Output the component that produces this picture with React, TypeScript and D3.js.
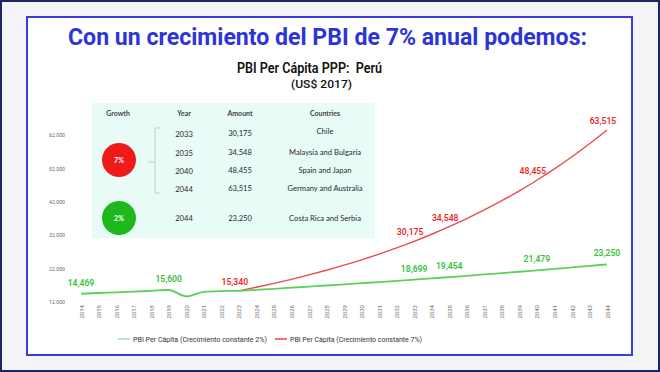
import React, { useEffect, useRef } from 'react';
import * as d3 from 'd3';

// years on the x axis
const years = [2014, 2015, 2016, 2017, 2018, 2019, 2020, 2021, 2022, 2023, 2024, 2025, 2026, 2027, 2028,
    2029, 2030, 2031, 2032, 2033, 2034, 2035, 2036, 2037, 2038, 2039, 2040, 2041, 2042, 2043, 2044];

// PBI per capita, 2% growth (history up to 2023, then projection)
const green = [14469, 14700, 14900, 15120, 15350, 15600, 13700, 15050, 15280, 15340, 15647, 15960, 16279, 16604,
    16937, 17275, 17621, 17973, 18333, 18699, 19073, 19454, 19844, 20241, 20645, 21058, 21479, 21909, 22347,
    22794, 23250];

// 7% growth projection from 2023
const redYears = [2023, 2024, 2025, 2026, 2027, 2028, 2029, 2030, 2031, 2032, 2033, 2034, 2035, 2036, 2037,
    2038, 2039, 2040, 2041, 2042, 2043, 2044];
const red = [15340, 16414, 17563, 18792, 20108, 21515, 23021, 24633, 26357, 28202, 30175, 32288, 34548, 36967,
    39554, 42323, 45286, 48455, 51848, 55477, 59360, 63515];

const greenLabelYears = [2014, 2019, 2033, 2035, 2040, 2044];
const redLabelYears = [2023, 2033, 2035, 2040, 2044];

const yTicks = [12000, 22000, 32000, 42000, 52000, 62000];

// table
const tableHeaders = ['Growth', 'Year', 'Amount', 'Countries'];
const rows7 = [
    { year: '2033', amount: '30,175', countries: 'Chile' },
    { year: '2035', amount: '34,548', countries: 'Malaysia and Bulgaria' },
    { year: '2040', amount: '48,455', countries: 'Spain and Japan' },
    { year: '2044', amount: '63,515', countries: 'Germany and Australia' },
];
const rows2 = [{ year: '2044', amount: '23,250', countries: 'Costa Rica and Serbia' }];

const legendItems = [
    { label: 'PBI Per Cápita (Crecimiento constante 2%)', color: '#9edcc6' },
    { label: 'PBI Per Cápita (Crecimiento constante 7%)', color: '#e8474a' },
];

const GREEN_LINE = '#5bd05b';
const GREEN_TEXT = '#36c236';
const RED_LINE = '#e94b4f';
const RED_TEXT = '#f02626';

const locale = d3.formatLocale({ decimal: ',', thousands: '.', grouping: [3], currency: ['', ''] });
const fmtTick = locale.format(',');
const fmtLabel = d3.format(',');

const Chart = () => {
    const ref = useRef(null);

    useEffect(() => {
        const g = d3.select(ref.current);
        g.selectAll('*').remove();

        const x = d3.scaleLinear().domain([2014, 2044]).range([81, 607]);
        const y = d3.scaleLinear().domain([12000, 62000]).range([302, 135]);

        // y axis
        const gy = g.append('g')
            .attr('transform', 'translate(67,0)')
            .call(d3.axisLeft(y).tickValues(yTicks).tickSize(0).tickPadding(2).tickFormat((d) => fmtTick(d)));
        gy.select('.domain').remove();
        gy.selectAll('text').attr('font-size', 5.2).attr('fill', '#666').attr('font-family', 'Roboto, sans-serif');

        // x axis, labels rotated to read upward
        const gx = g.append('g')
            .attr('transform', 'translate(0,303)')
            .call(d3.axisBottom(x).tickValues(years).tickSize(0).tickFormat((d) => String(d)));
        gx.select('.domain').remove();
        gx.selectAll('.tick text')
            .attr('font-size', 6)
            .attr('fill', '#777')
            .attr('font-family', 'Roboto, sans-serif')
            .attr('text-anchor', 'end')
            .attr('transform', 'rotate(-90)')
            .attr('x', -2)
            .attr('y', 0)
            .attr('dy', '0.35em');

        const line = d3.line().x((d) => x(d[0])).y((d) => y(d[1])).curve(d3.curveMonotoneX);

        g.append('path')
            .datum(redYears.map((yr, i) => [yr, red[i]]))
            .attr('d', line)
            .attr('fill', 'none')
            .attr('stroke', RED_LINE)
            .attr('stroke-width', 1.4);

        g.append('path')
            .datum(years.map((yr, i) => [yr, green[i]]))
            .attr('d', line)
            .attr('fill', 'none')
            .attr('stroke', GREEN_LINE)
            .attr('stroke-width', 1.8);

        g.selectAll('.glabel')
            .data(greenLabelYears)
            .enter()
            .append('text')
            .attr('class', 'glabel')
            .attr('x', (d) => x(d))
            .attr('y', (d) => y(green[years.indexOf(d)]) - 8)
            .attr('text-anchor', 'middle')
            .attr('font-size', 8.6)
            .attr('font-weight', 600)
            .attr('font-family', 'Roboto, sans-serif')
            .attr('fill', GREEN_TEXT)
            .text((d) => fmtLabel(green[years.indexOf(d)]));

        g.selectAll('.rlabel')
            .data(redLabelYears)
            .enter()
            .append('text')
            .attr('class', 'rlabel')
            .attr('x', (d) => x(d) - 4)
            .attr('y', (d) => y(red[redYears.indexOf(d)]) - 6)
            .attr('text-anchor', 'middle')
            .attr('font-size', 8.6)
            .attr('font-weight', 600)
            .attr('font-family', 'Roboto, sans-serif')
            .attr('fill', RED_TEXT)
            .text((d) => fmtLabel(red[redYears.indexOf(d)]));
    }, []);

    return <g ref={ref}></g>;
};

const colX = [118, 184, 240, 325];
const tFont = 'Lato, "Noto Sans", sans-serif';

const Table = () => (
    <g fontFamily={tFont}>
        <rect x={92} y={103} width={283} height={135} fill="#e9fbf7" />
        {tableHeaders.map((h, i) => (
            <text key={h} x={colX[i]} y={115.5} textAnchor="middle" fontSize={7} fontWeight={700} fill="#444">{h}</text>
        ))}
        {rows7.map((r, i) => {
            const yy = [137, 156, 174, 192][i];
            return (
                <g key={r.year + r.amount} fontSize={7.6} fill="#2a2a2a">
                    <text x={colX[1]} y={yy} textAnchor="middle">{r.year}</text>
                    <text x={colX[2]} y={yy - 1} textAnchor="middle">{r.amount}</text>
                    <text x={colX[3]} y={i === 0 ? yy - 3 : yy - 1} textAnchor="middle">{r.countries}</text>
                </g>
            );
        })}
        {rows2.map((r) => (
            <g key={r.amount} fontSize={7.6} fill="#2a2a2a">
                <text x={colX[1]} y={221} textAnchor="middle">{r.year}</text>
                <text x={colX[2]} y={221} textAnchor="middle">{r.amount}</text>
                <text x={colX[3]} y={221} textAnchor="middle">{r.countries}</text>
            </g>
        ))}
        <path d="M160,128 H155 V193 H160 M155,162 H148" fill="none" stroke="#b0d8c4" strokeWidth={1} />
        <circle cx={119} cy={160} r={17} fill="#f01a1a" />
        <text x={119} y={162.5} textAnchor="middle" fontSize={7} fontWeight={700} fill="#fff">7%</text>
        <circle cx={119} cy={218} r={17} fill="#1cb81c" />
        <text x={119} y={220.5} textAnchor="middle" fontSize={7} fontWeight={700} fill="#fff">2%</text>
    </g>
);

const Legend = () => (
    <g fontFamily="Roboto, sans-serif" fontSize={8} fill="#333">
        <line x1={118} x2={130} y1={339} y2={339} stroke={legendItems[0].color} strokeWidth={1.5} />
        <text x={133} y={342} textLength={134} lengthAdjust="spacingAndGlyphs">{legendItems[0].label}</text>
        <line x1={275} x2={287} y1={339} y2={339} stroke={legendItems[1].color} strokeWidth={1.5} />
        <text x={290} y={342} textLength={132} lengthAdjust="spacingAndGlyphs">{legendItems[1].label}</text>
    </g>
);

export default function App() {
    return (
        <svg width={660} height={372} style={{ position: 'fixed', left: 0, top: 0 }}>
            <rect x={0} y={0} width={660} height={372} fill="#f4f4f6" />
            <rect x={1} y={1} width={658} height={370} fill="none" stroke="#1d2563" strokeWidth={2} />
            <rect x={27} y={17} width={605} height={338} fill="#fff" stroke="#3a3ddc" strokeWidth={2} />
            <text x={68} y={45} textLength={519} lengthAdjust="spacingAndGlyphs" fontSize={24} fontWeight={700}
                  fontFamily="Roboto, sans-serif" fill="#2e35d8">Con un crecimiento del PBI de 7% anual podemos:</text>
            <text x={237} y={73} textLength={145} lengthAdjust="spacingAndGlyphs" fontSize={14} fontWeight={600}
                  fontFamily="Roboto, sans-serif" fill="#111" style={{ whiteSpace: 'pre' }}>PBI Per Cápita PPP:  Perú</text>
            <text x={291} y={88} textLength={61} lengthAdjust="spacingAndGlyphs" fontSize={11} fontWeight={500}
                  fontFamily="Roboto, sans-serif" fill="#111">(US$ 2017)</text>
            <Table />
            <Chart />
            <Legend />
        </svg>
    );
}
